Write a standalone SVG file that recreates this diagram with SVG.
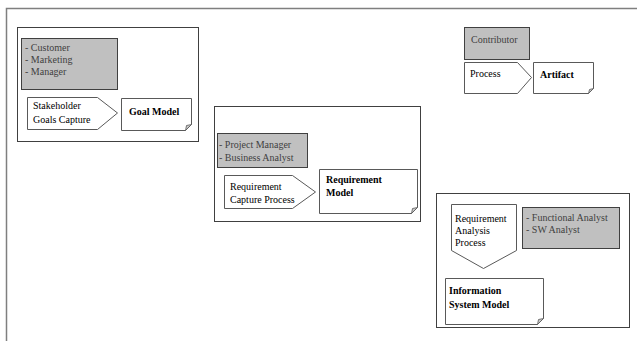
<svg xmlns="http://www.w3.org/2000/svg" width="637" height="341" viewBox="0 0 637 341">
<style>
text{font-family:"Liberation Serif","Times New Roman",serif;font-size:10px;fill:#000}
.g text,text.g{fill:#404040}
.b{font-weight:bold}
.frame{fill:none;stroke:#7f7f7f;stroke-width:1.5}
.box{fill:#fff;stroke:#404040;stroke-width:1}
.gray{fill:#c0c0c0;stroke:#404040;stroke-width:1}
.shape{fill:#fff;stroke:#595959;stroke-width:1}
.fold{fill:#c8c8c8;stroke:#595959;stroke-width:0.8}
</style>
<rect width="637" height="341" fill="#fff"/>
<path class="frame" d="M6.5,341 V8.5 H637"/>

<g id="stakeholder-goals">
<rect class="box" x="17.5" y="27.5" width="181" height="114"/>
<rect class="gray" x="21.5" y="38.5" width="96" height="51"/>
<text class="g" x="25" y="51">- Customer</text>
<text class="g" x="25" y="63">- Marketing</text>
<text class="g" x="25" y="75">- Manager</text>
<path class="shape" d="M27.5,97.5 H97.5 L117.5,113 L97.5,129.5 H27.5 Z"/>
<text x="33" y="109">Stakeholder</text>
<text x="33" y="123">Goals Capture</text>
<path class="shape" d="M121.5,98.5 H191.5 V124.5 L185.5,130.5 H121.5 Z"/>
<path class="fold" d="M191.5,124.5 L185.5,130.5 L186.5,125.5 Z"/>
<text class="b" x="129" y="115">Goal Model</text>
</g>

<g id="requirement-capture">
<rect class="box" x="214.5" y="106.5" width="206" height="115"/>
<rect class="gray" x="217.5" y="133.5" width="90" height="34"/>
<text class="g" x="219" y="148">- Project Manager</text>
<text class="g" x="219" y="161">- Business Analyst</text>
<path class="shape" d="M224.5,175.5 H292.5 L315.5,192 L292.5,208.5 H224.5 Z"/>
<text x="230" y="190">Requirement</text>
<text x="230" y="203">Capture Process</text>
<path class="shape" d="M319.5,169.5 H417.5 V207.5 L411.5,213.5 H319.5 Z"/>
<path class="fold" d="M417.5,207.5 L411.5,213.5 L412.5,208.5 Z"/>
<text class="b" x="326" y="183">Requirement</text>
<text class="b" x="326" y="196">Model</text>
</g>

<g id="requirement-analysis">
<rect class="box" x="436.5" y="193.5" width="193" height="134"/>
<path class="shape" d="M451.5,204.5 H516.5 V250.5 L483.5,268.5 L451.5,250.5 Z"/>
<text x="455" y="222">Requirement</text>
<text x="455" y="234">Analysis</text>
<text x="455" y="246">Process</text>
<rect class="gray" x="522.5" y="207.5" width="97" height="41"/>
<text class="g" x="526" y="221">- Functional Analyst</text>
<text class="g" x="526" y="233">- SW Analyst</text>
<path class="shape" d="M445.5,278.5 H543.5 V318.5 L537.5,324.5 H445.5 Z"/>
<path class="fold" d="M543.5,318.5 L537.5,324.5 L538.5,319.5 Z"/>
<text class="b" x="449" y="294">Information</text>
<text class="b" x="449" y="308">System Model</text>
</g>

<g id="legend">
<rect class="gray" x="464.5" y="27.5" width="65" height="32"/>
<text class="g" x="471" y="43">Contributor</text>
<path class="shape" d="M464.5,62.5 H517.5 L531.5,77.5 L517.5,93.5 H464.5 Z"/>
<text x="470" y="77">Process</text>
<path class="shape" d="M533.5,62.5 H593.5 V88.5 L588.5,93.5 H533.5 Z"/>
<path class="fold" d="M593.5,88.5 L588.5,93.5 L589.5,89.5 Z"/>
<text class="b" x="540" y="78">Artifact</text>
</g>

<g id="connectors"></g>
</svg>
